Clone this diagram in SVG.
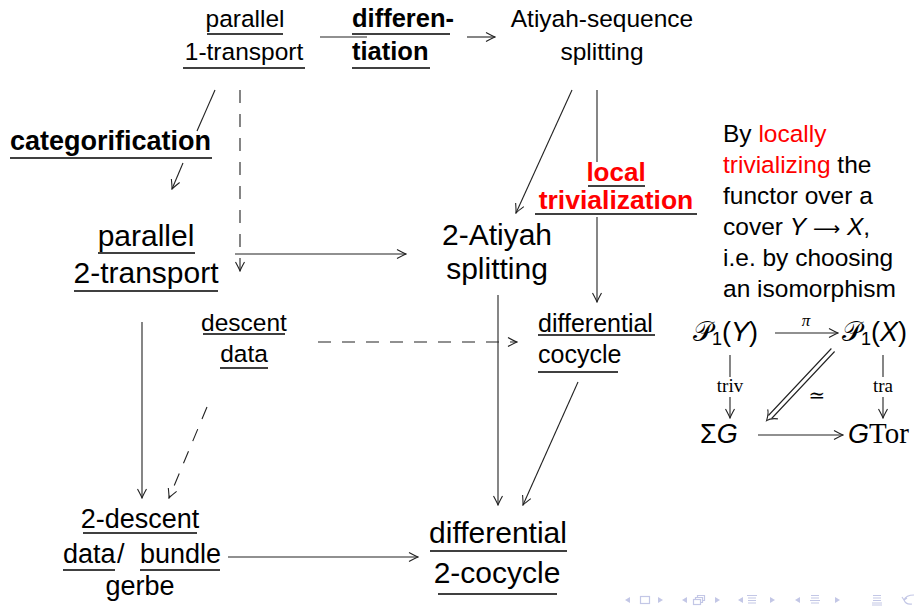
<svg xmlns="http://www.w3.org/2000/svg" width="919" height="608" viewBox="0 0 919 608">
  <style>
    text { font-family: "Liberation Sans", "DejaVu Sans", sans-serif; fill: #000; }
    .n { font-size: 24.5px; }
    .L { font-size: 30px; }
    .M { font-size: 27px; }
    .b { font-weight: bold; font-size: 25.5px; }
    .red { fill: #ff0000; }
    .ul { stroke: #000; stroke-width: 1.3; }
    .c { text-anchor: middle; }
    .edge { fill: none; stroke: #222; stroke-width: 1.1; }
    .dash { stroke-dasharray: 13 11; }
    .serif { font-family: "Liberation Serif", "DejaVu Serif", serif; }
    .it { font-style: italic; }
    .nav { fill: #c3c7e6; stroke: none; }
    .navs { fill: none; stroke: #c3c7e6; stroke-width: 1.2; }
  </style>
  <defs>
    <marker id="ah" viewBox="-11 -6 12 12" refX="0" refY="0" markerWidth="12" markerHeight="12" orient="auto" markerUnits="userSpaceOnUse">
      <path d="M-9,-4.5 Q-3,-1.2 0,0 Q-3,1.2 -9,4.5" fill="none" stroke="#222" stroke-width="1.1"/>
    </marker>
  </defs>
  <rect width="919" height="608" fill="#fff"/>

  <!-- connectors -->
  <g id="connectors">
    <!-- differentiation -->
    <path class="edge" d="M320,37 H367"/>
    <path class="edge" d="M467,37 H495" marker-end="url(#ah)"/>
    <!-- categorification -->
    <path class="edge" d="M215,90 L197,131"/>
    <path class="edge" d="M183,163 L172,189" marker-end="url(#ah)"/>
    <!-- dashed down to 2-transport corner -->
    <path class="edge dash" d="M240,90 V271" marker-end="url(#ah)"/>
    <!-- parallel 2-transport to 2-Atiyah splitting -->
    <path class="edge" d="M235,254 H406" marker-end="url(#ah)"/>
    <!-- Atiyah-sequence to 2-Atiyah -->
    <path class="edge" d="M572,90 L516,213" marker-end="url(#ah)"/>
    <!-- local trivialization -->
    <path class="edge" d="M597,90 V162"/>
    <path class="edge" d="M597,217 V302" marker-end="url(#ah)"/>
    <!-- parallel 2-transport down -->
    <path class="edge" d="M142,322 V498" marker-end="url(#ah)"/>
    <!-- descent data to differential cocycle -->
    <path class="edge dash" d="M318,342 H517" marker-end="url(#ah)"/>
    <!-- 2-Atiyah down -->
    <path class="edge" d="M498,295 V505" marker-end="url(#ah)"/>
    <!-- descent data to 2-descent -->
    <path class="edge dash" d="M207,407 L169,498" marker-end="url(#ah)"/>
    <!-- differential cocycle to differential 2-cocycle -->
    <path class="edge" d="M578,382 L523,505" marker-end="url(#ah)"/>
    <!-- bundle gerbe to differential 2-cocycle -->
    <path class="edge" d="M228,557 H418" marker-end="url(#ah)"/>
  </g>

  <g id="n-parallel1">
    <text class="n c" x="245" y="27">parallel</text>
    <line class="ul" x1="207" y1="34" x2="283" y2="34"/>
    <text class="n c" x="244" y="60">1-transport</text>
    <line class="ul" x1="183" y1="68" x2="305" y2="68"/>
  </g>

  <g id="n-differentiation">
    <text class="b" x="352" y="27">differen-</text>
    <line class="ul" x1="352" y1="34" x2="450" y2="34"/>
    <text class="b" x="352" y="60">tiation</text>
    <line class="ul" x1="352" y1="68" x2="430" y2="68"/>
  </g>

  <g id="n-atiyah-seq">
    <text class="n c" x="602" y="27">Atiyah-sequence</text>
    <text class="n c" x="602" y="60">splitting</text>
  </g>

  <g id="n-categorification">
    <text class="b" x="10" y="150" style="font-size:27px">categorification</text>
    <line class="ul" x1="10" y1="158" x2="212" y2="158"/>
  </g>

  <g id="n-parallel2">
    <text class="L c" x="146" y="246">parallel</text>
    <line class="ul" x1="98" y1="253" x2="195" y2="253"/>
    <text class="L c" x="146" y="283">2-transport</text>
    <line class="ul" x1="74" y1="291" x2="218" y2="291"/>
  </g>

  <g id="n-2atiyah">
    <text class="L c" x="497" y="245">2-Atiyah</text>
    <text class="L c" x="497" y="279">splitting</text>
  </g>

  <g id="n-localtriv">
    <text class="b red c" x="616" y="181" style="font-size:26px">local</text>
    <line class="ul" x1="588" y1="186" x2="645" y2="186"/>
    <text class="b red c" x="616" y="209" style="font-size:26.5px">trivialization</text>
    <line class="ul" x1="535" y1="214" x2="697" y2="214"/>
  </g>

  <g id="n-descent">
    <text class="n c" x="244" y="331">descent</text>
    <line class="ul" x1="203" y1="334" x2="285" y2="334"/>
    <text class="n c" x="244" y="362">data</text>
    <line class="ul" x1="220" y1="368" x2="268" y2="368"/>
  </g>

  <g id="n-diffcocycle">
    <text class="n" x="538" y="332" style="font-size:25px">differential</text>
    <line class="ul" x1="538" y1="335" x2="655" y2="335"/>
    <text class="n" x="538" y="363" style="font-size:25px">cocycle</text>
    <line class="ul" x1="538" y1="372" x2="618" y2="372"/>
  </g>

  <g id="n-2descent">
    <text class="M c" x="140" y="528">2-descent</text>
    <line class="ul" x1="83" y1="533" x2="197" y2="533"/>
    <text class="M" x="63" y="563">data</text>
    <text class="M" x="117" y="563">/</text>
    <text class="M" x="140" y="563">bundle</text>
    <line class="ul" x1="63" y1="570" x2="115" y2="570"/>
    <line class="ul" x1="140" y1="570" x2="220" y2="570"/>
    <text class="M c" x="140" y="595">gerbe</text>
  </g>

  <g id="n-diff2cocycle">
    <text class="L c" x="498" y="543">differential</text>
    <line class="ul" x1="430" y1="551" x2="567" y2="551"/>
    <text class="L c" x="497" y="583">2-cocycle</text>
    <line class="ul" x1="438" y1="594" x2="557" y2="594"/>
  </g>

  <g id="note">
    <text class="n" x="723" y="142">By <tspan class="red">locally</tspan></text>
    <text class="n" x="723" y="173"><tspan class="red">trivializing</tspan> the</text>
    <text class="n" x="723" y="204">functor over a</text>
    <text class="n" x="723" y="235">cover <tspan class="it">Y</tspan> <tspan style="font-family:'DejaVu Sans',sans-serif;font-size:19px">⟶</tspan> <tspan class="it">X</tspan>,</text>
    <text class="n" x="723" y="266">i.e. by choosing</text>
    <text class="n" x="723" y="297">an isomorphism</text>
  </g>

  <g id="square">
    <text x="693" y="341" style="font-size:27px"><tspan style="font-family:'DejaVu Sans',serif">𝒫</tspan><tspan style="font-size:18px" dy="4">1</tspan><tspan dy="-4">(</tspan><tspan class="it">Y</tspan>)</text>
    <text x="842" y="341" style="font-size:27px"><tspan style="font-family:'DejaVu Sans',serif">𝒫</tspan><tspan style="font-size:18px" dy="4">1</tspan><tspan dy="-4">(</tspan><tspan class="it">X</tspan>)</text>
    <text x="700" y="443" style="font-size:27px">Σ<tspan class="it">G</tspan></text>
    <text x="848" y="443" style="font-size:27px"><tspan class="it">G</tspan><tspan class="serif" style="font-size:29px">Tor</tspan></text>
    <path class="edge" d="M775,333 H838" marker-end="url(#ah)"/>
    <text class="serif it c" x="806" y="326" style="font-size:17px">π</text>
    <path class="edge" d="M730,355 V377"/>
    <path class="edge" d="M730,397 V418" marker-end="url(#ah)"/>
    <text class="serif c" x="730" y="392" style="font-size:19px">triv</text>
    <path class="edge" d="M883,355 V377"/>
    <path class="edge" d="M883,397 V418" marker-end="url(#ah)"/>
    <text class="serif c" x="883" y="392" style="font-size:19px">tra</text>
    <path class="edge" d="M758,435 H843" marker-end="url(#ah)"/>
    <path class="edge" d="M834.6,351.5 L771.6,418.5 M831.4,348.5 L768.4,415.5"/>
    <path class="edge" d="M777.9,418.9 Q770.5,418 766.6,420.6 Q768.8,413 767.7,409.3"/>
    <text class="serif c" x="817" y="402" style="font-size:20px">≃</text>
  </g>

  <g id="navigation">
    <polygon class="nav" points="630,597 625,600 630,603"/>
    <rect class="navs" x="640.5" y="596.5" width="9" height="7"/>
    <polygon class="nav" points="658,597 663,600 658,603"/>
    <polygon class="nav" points="687,597 682,600 687,603"/>
    <rect class="navs" x="693.5" y="599.5" width="7" height="5"/>
    <path class="navs" d="M695.5,599.5 V597.5 H702.5 V602.5 H700.5 M697.5,597.5 V595.5 H704.5 V600.5 H702.5"/>
    <polygon class="nav" points="715,597 720,600 715,603"/>
    <polygon class="nav" points="743,597 738,600 743,603"/>
    <path class="navs" d="M747,595.5 H757 M748,598 H756 M748,600.5 H756 M748,603 H756"/>
    <polygon class="nav" points="770,597 775,600 770,603"/>
    <polygon class="nav" points="800,597 795,600 800,603"/>
    <path class="navs" d="M811,595.5 H819 M811,598 H819 M810,600.5 H820 M811,603 H819"/>
    <polygon class="nav" points="835,597 840,600 835,603"/>
    <path class="navs" d="M873,595.5 H881 M873,598 H881 M873,600.5 H881 M872,603 H882 M872,605 H882"/>
    <path class="navs" d="M914,595 Q906,595 904,600 Q906,605 912,604 M904,600 L902,597 M904,600 L907,598"/>
  </g>
</svg>
